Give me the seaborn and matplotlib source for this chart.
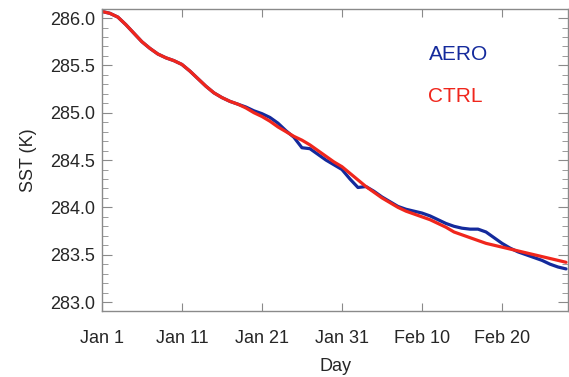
import numpy as np
import pandas as pd
import matplotlib
matplotlib.use('Agg')
import matplotlib.pyplot as plt
import seaborn as sns
from matplotlib.ticker import MultipleLocator

# Days since Jan 1
days = list(range(59))

ctrl_sst = [286.07, 286.05, 286.01, 285.93, 285.84, 285.75, 285.68, 285.62, 285.58, 285.55,
            285.51, 285.44, 285.36, 285.28, 285.21, 285.16, 285.12, 285.09, 285.05, 285.00,
            284.96, 284.91, 284.85, 284.80, 284.75, 284.71, 284.66, 284.60, 284.54, 284.48,
            284.43, 284.36, 284.29, 284.22, 284.16, 284.10, 284.05, 284.00, 283.96, 283.93,
            283.90, 283.87, 283.83, 283.79, 283.74, 283.71, 283.68, 283.65, 283.62, 283.60,
            283.58, 283.56, 283.54, 283.52, 283.50, 283.48, 283.46, 283.44, 283.42]

aero_sst = [286.07, 286.05, 286.01, 285.93, 285.84, 285.75, 285.68, 285.62, 285.58, 285.55,
            285.51, 285.44, 285.36, 285.28, 285.21, 285.16, 285.12, 285.09, 285.06, 285.02,
            284.99, 284.95, 284.89, 284.81, 284.74, 284.63, 284.62, 284.56, 284.50, 284.45,
            284.40, 284.30, 284.21, 284.22, 284.17, 284.11, 284.06, 284.01, 283.98, 283.96,
            283.94, 283.91, 283.87, 283.83, 283.80, 283.78, 283.77, 283.77, 283.74, 283.68,
            283.62, 283.57, 283.53, 283.50, 283.47, 283.44, 283.40, 283.37, 283.35]

tick_days = [0, 10, 20, 30, 40, 50]
tick_labels = ['Jan 1', 'Jan 11', 'Jan 21', 'Jan 31', 'Feb 10', 'Feb 20']

df = pd.DataFrame({
    'day': days * 2,
    'sst': aero_sst + ctrl_sst,
    'run': ['AERO'] * len(days) + ['CTRL'] * len(days),
})

sns.set_style('ticks')
plt.rcParams['font.family'] = ['Liberation Sans', 'DejaVu Sans']

fig = plt.figure(figsize=(5.69, 3.77), dpi=100)
ax = fig.add_axes([0.179, 0.175, 0.82, 0.801])

colors = {'AERO': '#142a9c', 'CTRL': '#f0261c'}
sns.lineplot(data=df, x='day', y='sst', hue='run', palette=colors,
             linewidth=2.3, legend=False, ax=ax)

ax.set_xlim(0, 58.3)
ax.set_ylim(282.905, 286.095)
ax.set_xticks(tick_days)
ax.set_xticklabels(tick_labels)
ax.yaxis.set_major_locator(MultipleLocator(0.5))
ax.yaxis.set_minor_locator(MultipleLocator(0.1))
ax.yaxis.set_major_formatter(plt.FormatStrFormatter('%.1f'))

for s in ax.spines.values():
    s.set_color('#8a8a8a')
    s.set_linewidth(1.0)
ax.tick_params(axis='both', which='both', direction='in', color='#8a8a8a',
               top=True, right=True, labelsize=13)
ax.tick_params(axis='x', which='major', length=6, pad=13.5)
ax.tick_params(axis='y', which='major', length=7, pad=5)
ax.tick_params(axis='y', which='minor', length=4)

ax.set_xlabel('Day', fontsize=13, labelpad=8)
ax.set_ylabel('SST (K)', fontsize=13, labelpad=9)

ax.text(0.70, 0.832, 'AERO', color=colors['AERO'], fontsize=15, transform=ax.transAxes)
ax.text(0.70, 0.692, 'CTRL', color=colors['CTRL'], fontsize=15, transform=ax.transAxes)

fig.savefig('out.png', dpi=100)
